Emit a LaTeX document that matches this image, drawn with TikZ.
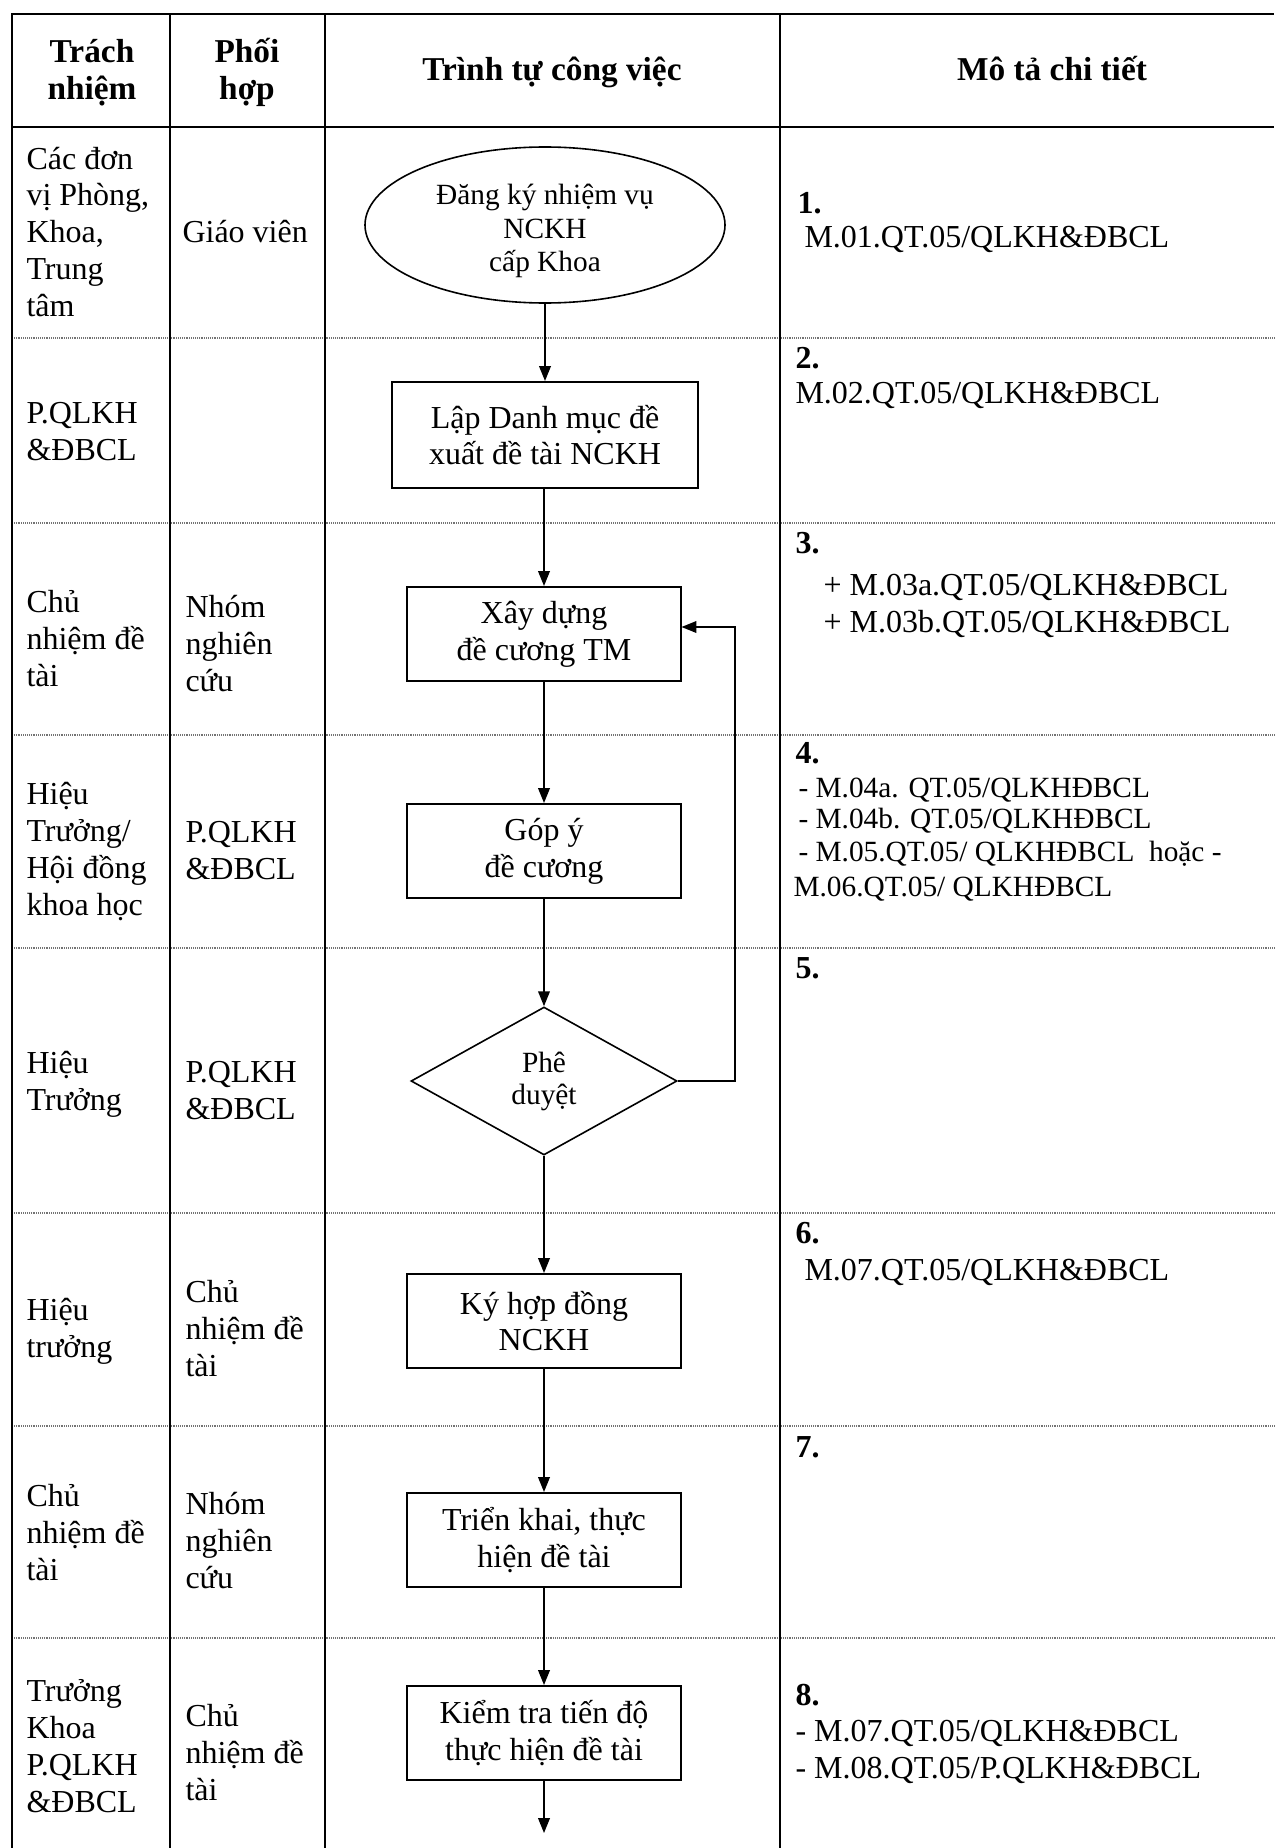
\documentclass[tikz,border=0pt]{standalone}
\usepackage{fontspec}
\setmainfont{Liberation Serif}
\usetikzlibrary{shapes.geometric,arrows.meta}
\tikzset{
  body/.style={font=\fontsize{12}{13.76}\selectfont, inner sep=0pt, align=left, anchor=base west},
  bodysm/.style={font=\fontsize{11}{12.4}\selectfont, inner sep=0pt, anchor=base west},
  hdr/.style={font=\bfseries\fontsize{12.5}{13.9}\selectfont, inner sep=0pt, align=center, anchor=base},
  num/.style={font=\bfseries\fontsize{12}{13.76}\selectfont, inner sep=0pt, anchor=base west},
  stepbox/.style={draw, line width=0.75pt, rectangle, minimum width=102.4pt, minimum height=35.25pt,
    inner sep=0pt, align=center, font=\fontsize{12}{13.8}\selectfont},
  flow/.style={-{Triangle[length=5.6pt,width=4.4pt]}, line width=0.55pt},
  thick border/.style={line width=1.1pt},
  colline/.style={line width=0.75pt},
  rowsep/.style={black!55, line width=0.45pt, dash pattern=on 0.35pt off 0.35pt},
}
\begin{document}
\begin{tikzpicture}[x=0.375pt,y=-0.375pt]
\useasboundingbox (0,0) rectangle (1274,1848);
% ---- table grid ----
\foreach \yy in {338,523,735,948,1213,1426,1638}
  \draw[rowsep] (12,\yy) -- (1274,\yy);
\draw[colline] (170,14) -- (170,1848);
\draw[colline] (325,14) -- (325,1848);
\draw[colline] (780,14) -- (780,1848);
\draw[line width=0.95pt] (12,127) -- (1274,127);
\draw[thick border] (12,1848) -- (12,14) -- (1274,14);

% ---- header (base = baseline of last line) ----
\node[hdr] (h1) at (92,100) {Trách\\nhiệm};
\node[hdr] (h2) at (247,100) {Phối\\hợp};
\node[hdr] (h3) at (552,81) {Trình tự công việc};
\node[hdr] (h4) at (1052,81) {Mô tả chi tiết};

% ---- column 1 and 2 (base = baseline of last line) ----
\node[body] (a1) at (26,316) {Các đơn\\vị Phòng,\\Khoa,\\Trung\\tâm};
\node[body] (b1) at (182,242) {Giáo viên};
\node[body] (a2) at (26,460) {P.QLKH\\\&ĐBCL};
\node[body] (a3) at (26,686) {Chủ\\nhiệm đề\\tài};
\node[body] (b3) at (185,691) {Nhóm\\nghiên\\cứu};
\node[body] (a4) at (26,915) {Hiệu\\Trưởng/\\Hội đồng\\khoa học};
\node[body] (b4) at (185,879) {P.QLKH\\\&ĐBCL};
\node[body] (a5) at (26,1110) {Hiệu\\Trưởng};
\node[body] (b5) at (185,1119) {P.QLKH\\\&ĐBCL};
\node[body] (a6) at (26,1357) {Hiệu\\trưởng};
\node[body] (b6) at (185,1376) {Chủ\\nhiệm đề\\tài};
\node[body] (a7) at (26,1580) {Chủ\\nhiệm đề\\tài};
\node[body] (b7) at (185,1588) {Nhóm\\nghiên\\cứu};
\node[body] (a8) at (26,1812) {Trưởng\\Khoa\\P.QLKH\\\&ĐBCL};
\node[body] (b8) at (185,1800) {Chủ\\nhiệm đề\\tài};

% ---- column 4 ----
\node[num] (n1) at (797,213) {1.};
\node[body] (d1) at (804,247) {M.01.QT.05/QLKH\&ĐBCL};
\node[num] (n2) at (795,368) {2.};
\node[body] (d2) at (795,403) {M.02.QT.05/QLKH\&ĐBCL};
\node[num] (n3) at (795,553) {3.};
\node[body] (d3a) at (823,595) {+ M.03a.QT.05/QLKH\&ĐBCL};
\node[body] (d3b) at (823,632) {+ M.03b.QT.05/QLKH\&ĐBCL};
\node[num] (n4) at (795,763) {4.};
\node[bodysm] (d4a) at (798,797) {- M.04a. QT.05/QLKHĐBCL};
\node[bodysm] (d4b) at (798,828) {- M.04b. QT.05/QLKHĐBCL};
\node[bodysm] (d4c) at (798,861) {- M.05.QT.05/ QLKHĐBCL\ \ hoặc -};
\node[bodysm] (d4d) at (793,896) {M.06.QT.05/ QLKHĐBCL};
\node[num] (n5) at (795,978) {5.};
\node[num] (n6) at (795,1243) {6.};
\node[body] (d6) at (804,1280) {M.07.QT.05/QLKH\&ĐBCL};
\node[num] (n7) at (795,1457) {7.};
\node[num] (n8) at (795,1705) {8.};
\node[body] (d8a) at (795,1741) {- M.07.QT.05/QLKH\&ĐBCL};
\node[body] (d8b) at (795,1778) {- M.08.QT.05/P.QLKH\&ĐBCL};

% ---- flowchart ----
\node[draw, ellipse, line width=0.6pt, minimum width=135pt, minimum height=58.5pt, inner sep=0pt] (s0) at (545,225) {};
\node[align=center, inner sep=0pt, font=\fontsize{11}{12.6}\selectfont] (s0t) at (545,231) {Đăng ký nhiệm vụ\\NCKH\\cấp Khoa};
\node[stepbox, minimum width=115.1pt, minimum height=39.75pt] (s1) at (545,435) {Lập Danh mục đề\\xuất đề tài NCKH};
\node[stepbox] (s2) at (544,634) {Xây dựng\\đề cương TM};
\node[stepbox] (s3) at (544,851) {Góp ý\\đề cương};
\node[draw, diamond, line width=0.6pt, minimum width=99.75pt, minimum height=55.5pt, inner sep=0pt,
      align=center, font=\fontsize{11}{12}\selectfont] (s4) at (544,1081) {Phê\\duyệt};
\node[stepbox] (s5) at (544,1321) {Ký hợp đồng\\NCKH};
\node[stepbox] (s6) at (544,1540) {Triển khai, thực\\hiện đề tài};
\node[stepbox] (s7) at (544,1733) {Kiểm tra tiến độ\\thực hiện đề tài};
\coordinate (fb) at (735,627);
\coordinate (endp) at (544,1833);

\draw[flow] (s0.south -| s1.north) -- (s1.north);
\draw[flow] (s1.south -| s2.north) -- (s2.north);
\draw[flow] (s2) -- (s3);
\draw[flow] (s3) -- (s4);
\draw[flow] (s4) -- (s5);
\draw[flow] (s5) -- (s6);
\draw[flow] (s6) -- (s7);
\draw[flow] (s7) -- (endp);
\draw[flow] (s4.east) -| (fb) -- (fb -| s2.east);
\end{tikzpicture}
\end{document}
